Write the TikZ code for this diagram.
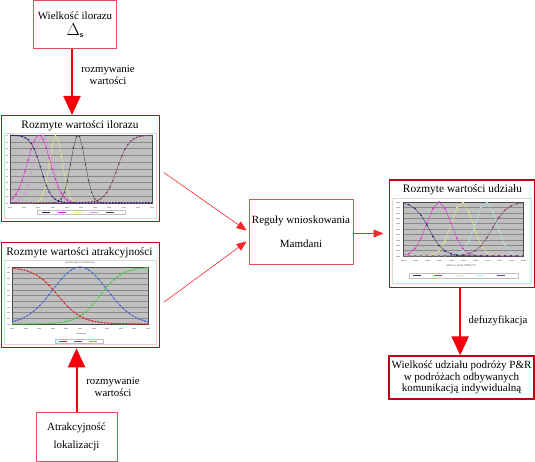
\documentclass[tikz,border=0pt]{standalone}
\usepackage{fontspec}
\setmainfont{Liberation Serif}
\usetikzlibrary{arrows.meta}
\definecolor{darkred}{HTML}{C00018}
\definecolor{thinred}{HTML}{E04A62}
\definecolor{arrred}{HTML}{F5000A}
\definecolor{plotgray}{HTML}{C0C0C0}
\definecolor{gridc}{HTML}{8A8A8A}
\definecolor{cnavy}{HTML}{23236E}
\definecolor{cmag}{HTML}{E020D8}
\definecolor{cpink}{HTML}{D890E0}
\definecolor{cyel}{HTML}{F2F070}
\definecolor{cdark}{HTML}{4A4040}
\definecolor{cpurp}{HTML}{7A3A6A}
\definecolor{cred}{HTML}{E02020}
\definecolor{cblue}{HTML}{4060D0}
\definecolor{cgreen}{HTML}{40D040}
\definecolor{ccyan}{HTML}{A8F0F0}
\begin{document}
\begin{tikzpicture}[x=1pt,y=-1pt,
  declare function={gau(\x,\a,\b)=exp(-min(((\x-\a)/\b)*((\x-\a)/\b),9));
                    sig(\x,\a,\b)=1/(1+exp(max(min(-(\x-\a)/\b,9),-9)));},
  thinbox/.style={draw=thinred, line width=0.8pt, fill=white, align=center, inner sep=0pt, font=\fontsize{11}{13}\selectfont},
  chartbox/.style={draw=darkred, line width=1.3pt, inner sep=0pt, anchor=north west},
  bigarrow/.style={draw=arrred, line width=2pt, -{Triangle[length=19pt,width=17pt]}},
  smallarrow/.style={draw=arrred!85!white, line width=0.6pt, -{Triangle[length=10pt,width=8pt]}},
  lbl/.style={font=\fontsize{10.8}{12}\selectfont, align=center, inner sep=0pt},
  ctitle/.style={font=\fontsize{11.4}{13}\selectfont, inner sep=0pt},
  frame/.style={draw=gray!30, line width=0.4pt},
  grid/.style={draw=gridc, line width=0.35pt},
  tick/.style={draw=gray!55, line width=0.5pt},
  curve/.style={line width=0.35pt, draw=#1, mark=*, mark size=0.55pt, mark options={fill=#1, draw=#1}},
  tiny/.style={font=\fontsize{3}{3.5}\selectfont, text=gray!70!black, inner sep=0pt}
]
\useasboundingbox (0,0) rectangle (535,462);

% ---------- boxes ----------
\node[thinbox, minimum width=83pt, minimum height=48pt] (top) at (75,24.5)
  {Wielkość ilorazu\\[3pt]{\fontsize{16}{16}\selectfont$\Delta$}\raisebox{-2.5pt}{\fontsize{8}{8}\selectfont\sffamily\bfseries s}};
\node[thinbox, minimum width=81pt, minimum height=49pt] (bot) at (76.5,436.5)
  {Atrakcyjność\\[5pt]lokalizacji};
\node[thinbox, minimum width=104pt, minimum height=65pt] (mam) at (301,231.5)
  {Reguły wnioskowania\\[11pt]Mamdani};
\node[thinbox, draw=darkred, line width=1.2pt, minimum width=145pt, minimum height=43pt, font=\fontsize{11}{11.6}\selectfont] (res) at (461.5,377.5)
  {Wielkość udziału podróży P\&R\\w podróżach odbywanych\\komunikacją indywidualną};

\node[chartbox, minimum width=158pt, minimum height=106pt] (c1) at (0.7,115) {};
\node[chartbox, minimum width=158pt, minimum height=105pt] (c2) at (0.7,242) {};
\node[chartbox, minimum width=145pt, minimum height=107pt] (c3) at (388.5,179.5) {};

% ---------- chart 1 ----------
\draw[frame] (4,133) rectangle (156,218);
\node[ctitle] (t1) at (80,126) {Rozmyte wartości ilorazu};
\fill[plotgray] (10,135) rectangle (152,203);
\foreach \i in {1,...,9} \draw[grid] (10,{135+6.8*\i}) -- (152,{135+6.8*\i});
\draw[gray!60!black, line width=0.4pt] (10,135) rectangle (152,203);
\foreach \i in {0,...,10} \draw[tick] (5.5,{135+6.8*\i}) -- (8,{135+6.8*\i});
\foreach \i in {0,...,10} \draw[tick] ({10+14.2*\i-2},207) -- ({10+14.2*\i+2},207);
\begin{scope}
\clip (10,134) rectangle (152,204);
\draw[curve=cyel] plot[domain=10:152, samples=48] (\x,{203-68*gau(\x,56,9)});
\draw[curve=cpink] plot[domain=10:152, samples=48] (\x,{203-68*gau(\x,43,13)});
\draw[curve=cmag] plot[domain=10:152, samples=48] (\x,{203-68*gau(\x,39,16)});
\draw[curve=cdark] plot[domain=10:152, samples=48] (\x,{203-68*gau(\x,78,10)});
\draw[curve=cpurp] plot[domain=10:152, samples=48] (\x,{203-68*sig(\x,117,6)});
\draw[curve=cnavy] plot[domain=10:152, samples=48] (\x,{203-68*sig(\x,41,-5)});
\end{scope}
\draw[draw=gray!50, fill=white, line width=0.3pt] (37,210) rectangle (125,214);
\foreach \xx/\cc in {42/cnavy,58/cmag,74/cyel,90/cpink,106/cdark}
  \draw[\cc, line width=0.6pt] (\xx,212) -- ++(8,0);

% ---------- chart 2 ----------
\draw[frame] (4,260) rectangle (156,344);
\node[ctitle] (t2) at (79.5,253) {Rozmyte wartości atrakcyjności};
\node[tiny] (st2) at (80,262.5) {Atrakcyjność lokalizacji};
\fill[plotgray] (12,267) rectangle (148,324);
\foreach \i in {1,...,9} \draw[grid] (12,{267+5.7*\i}) -- (148,{267+5.7*\i});
\draw[gray!60!black, line width=0.4pt] (12,267) rectangle (148,324);
\foreach \i in {0,...,10} \draw[tick] (7,{267+5.7*\i}) -- (9.5,{267+5.7*\i});
\foreach \i in {0,...,10} \draw[tick] ({12+13.6*\i-2},328) -- ({12+13.6*\i+2},328);
\draw[tick] (76,333) -- (86,333);
\begin{scope}
\clip (12,266) rectangle (148,325);
\draw[curve=cgreen] plot[domain=12:148, samples=45] (\x,{324-57*sig(\x,100,11)});
\draw[curve=cblue] plot[domain=12:148, samples=45] (\x,{324-57*gau(\x,80,38)});
\draw[curve=cred] plot[domain=12:148, samples=45] (\x,{324-57*sig(\x,58,-12)});
\end{scope}
\draw[draw=gray!50, fill=white, line width=0.3pt] (55,339) rectangle (103,343);
\foreach \xx/\cc in {59/cred,74/cblue,89/cgreen}
  \draw[\cc, line width=0.6pt] (\xx,341) -- ++(8,0);

% ---------- chart 3 ----------
\draw[frame] (392,198) rectangle (531,283);
\node[ctitle] (t3) at (462.5,189.5) {Rozmyte wartości udziału};
\fill[plotgray] (403,202) rectangle (523,256);
\foreach \i in {1,...,9} \draw[grid] (403,{202+5.4*\i}) -- (523,{202+5.4*\i});
\draw[gray!60!black, line width=0.4pt] (403,202) rectangle (523,256);
\foreach \i in {0,...,10} \draw[tick] (396,{202+5.4*\i}) -- (400,{202+5.4*\i});
\foreach \i in {0,...,10} \draw[tick] ({403+12*\i-2.5},260) -- ({403+12*\i+2.5},260);
\node[tiny] (ax3) at (461,266) {udział podróży P\&R (\%)};
\begin{scope}
\clip (403,201) rectangle (523,257);
\draw[curve=ccyan] plot[domain=403:523, samples=21] (\x,{256-54*gau(\x,486,15)});
\draw[curve=cyel] plot[domain=403:523, samples=21] (\x,{256-54*gau(\x,462,15)});
\draw[curve=cmag] plot[domain=403:523, samples=21] (\x,{256-54*gau(\x,439,17)});
\draw[curve=cpurp] plot[domain=403:523, samples=21] (\x,{256-54*sig(\x,492,7.5)});
\draw[curve=cnavy] plot[domain=403:523, samples=21] (\x,{256-54*sig(\x,429,-7)});
\end{scope}
\draw[draw=gray!50, fill=white, line width=0.3pt] (409,273) rectangle (518,278);
\foreach \xx/\cc in {413/cnavy,434/cmag,455/cyel,476/ccyan,497/cpurp}
  \draw[\cc, line width=0.6pt] (\xx,275.5) -- ++(8,0);

% ---------- connectors ----------
\draw[bigarrow] ([xshift=-3pt]top.south) -- ([xshift=-3pt]top.south |- c1.north);
\node[lbl] (l1) at (108,75) {rozmywanie\\wartości};
\draw[bigarrow] (bot.north) -- (bot.north |- c2.south);
\node[lbl] (l2) at (113,387) {rozmywanie\\wartości};
\draw[bigarrow] ([xshift=-1.5pt]c3.south) -- ([xshift=-1.5pt]c3.south |- res.north);
\node[lbl] (l3) at (498,321) {defuzyfikacja};

\draw[smallarrow] ([shift={(4,4)}]c1.east) -- ([shift={(-2,-1)}]mam.west);
\draw[smallarrow] ([shift={(4,7)}]c2.east) -- ([shift={(-2,10)}]mam.west);
\draw[smallarrow] ([yshift=-2pt]mam.east) -- ([yshift=-2pt,xshift=-5pt]mam.east -| c3.west);
\end{tikzpicture}
\end{document}
